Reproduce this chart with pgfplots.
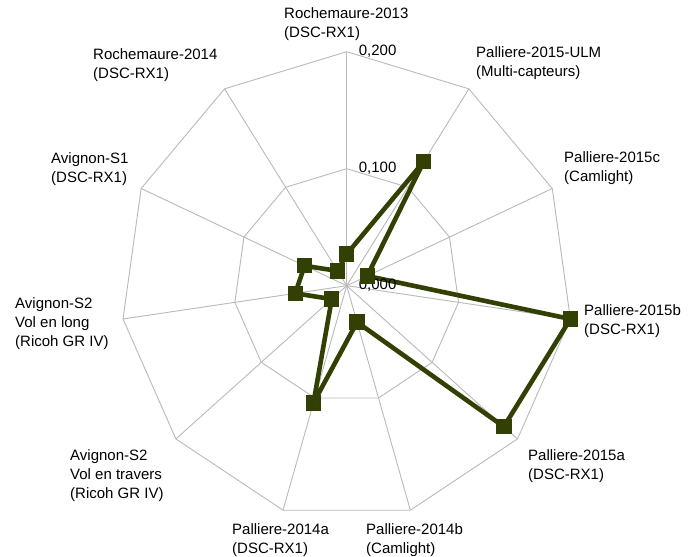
\documentclass[border=0pt]{standalone}
\usepackage{pgfplots}
\pgfplotsset{compat=1.18}
\usepackage{pgfplotstable}
\usepackage{fontspec}
\setmainfont{Liberation Sans}
\definecolor{serie}{RGB}{50,64,4}
\definecolor{grille}{RGB}{185,185,185}
\pgfplotstableread{
ang r
90 0.027
57.2727 0.126
24.5455 0.020
-8.1818 0.200
-40.9091 0.184
-73.6364 0.0325
-106.3636 0.1045
-139.0909 0.0175
-171.8182 0.046
155.4545 0.041
122.7273 0.015
90 0.027
}\data
\newcommand{\px}[2]{axis cs:{(#1-346.7)/1130},{(285.7-#2)/1170}}
\begin{document}
\begin{tikzpicture}[lab/.style={font=\fontsize{15}{19}\selectfont, inner sep=0pt, align=left, anchor=north west},
  tl/.style={font=\fontsize{15}{19}\selectfont, inner sep=0pt, anchor=west}]
\begin{axis}[
  scale only axis, width=691pt, height=557pt,
  xmin=-0.30681, xmax=0.30469, ymin=-0.23188, ymax=0.24419,
  hide axis, clip=false,
]
% rings
\addplot[grille, line width=0.9pt, data cs=polar] coordinates {
(90,0.1)(57.2727,0.1)(24.5455,0.1)(-8.1818,0.1)(-40.9091,0.1)(-73.6364,0.1)(-106.3636,0.1)(-139.0909,0.1)(-171.8182,0.1)(155.4545,0.1)(122.7273,0.1)(90,0.1)};
\addplot[grille, line width=0.9pt, data cs=polar] coordinates {
(90,0.2)(57.2727,0.2)(24.5455,0.2)(-8.1818,0.2)(-40.9091,0.2)(-73.6364,0.2)(-106.3636,0.2)(-139.0909,0.2)(-171.8182,0.2)(155.4545,0.2)(122.7273,0.2)(90,0.2)};
% spokes
\foreach \a in {90,57.2727,24.5455,-8.1818,-40.9091,-73.6364,-106.3636,-139.0909,-171.8182,155.4545,122.7273}{
  \addplot[grille, line width=0.9pt, data cs=polar] coordinates {(\a,0)(\a,0.2)};
}
% series
\addplot[serie, line width=4.6pt, mark=square*, mark size=7.2pt, line join=round, mark options={line width=0pt}, data cs=polar] table[x=ang, y=r] {\data};
% tick labels
\node[tl] at (axis cs:0.0106,0.2) {0,200};
\node[tl] at (axis cs:0.0106,0.1) {0,100};
\node[tl] at (axis cs:0.0106,0) {0,000};
% category labels
\node[lab] at (\px{284}{7}) {Rochemaure-2013\\(DSC-RX1)};
\node[lab] at (\px{476}{46}) {Palliere-2015-ULM\\(Multi-capteurs)};
\node[lab] at (\px{564}{151}) {Palliere-2015c\\(Camlight)};
\node[lab] at (\px{584}{304}) {Palliere-2015b\\(DSC-RX1)};
\node[lab] at (\px{528}{449}) {Palliere-2015a\\(DSC-RX1)};
\node[lab] at (\px{366}{523}) {Palliere-2014b\\(Camlight)};
\node[lab] at (\px{232}{523}) {Palliere-2014a\\(DSC-RX1)};
\node[lab] at (\px{70}{449}) {Avignon-S2\\Vol en travers\\(Ricoh GR IV)};
\node[lab] at (\px{15}{297}) {Avignon-S2\\Vol en long\\(Ricoh GR IV)};
\node[lab] at (\px{51}{152}) {Avignon-S1\\(DSC-RX1)};
\node[lab] at (\px{93}{48}) {Rochemaure-2014\\(DSC-RX1)};
\end{axis}
\pgfresetboundingbox
\path[use as bounding box] (current axis.south west) rectangle (current axis.north east);
\end{tikzpicture}
\end{document}
